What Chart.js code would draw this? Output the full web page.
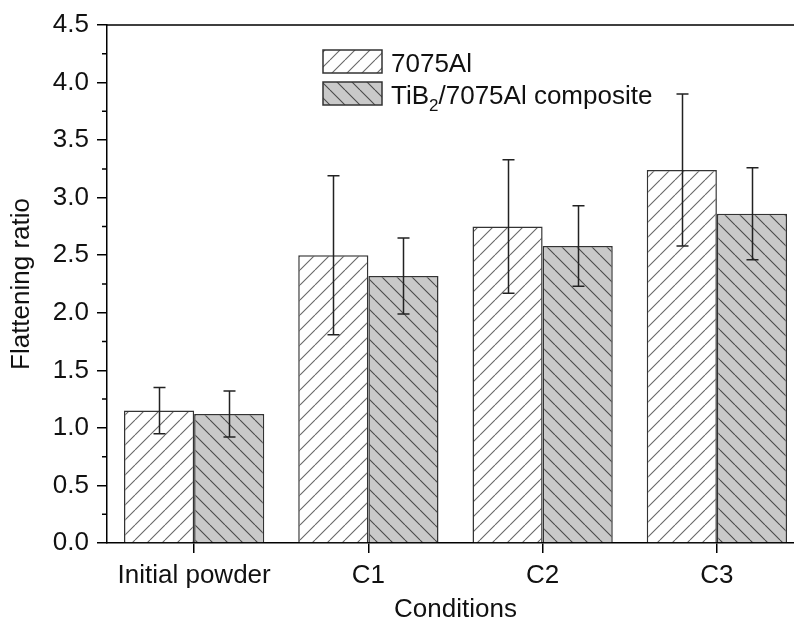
<!DOCTYPE html>
<html>
<head>
<meta charset="utf-8">
<script src="https://cdn.jsdelivr.net/npm/chart.js@4"></script>
<style>
  html, body { margin: 0; padding: 0; background: #fff; overflow: hidden; }
  #wrap { width: 812px; height: 631px; position: relative; }
</style>
</head>
<body>
<div id="wrap"><canvas id="chart"></canvas></div>
<script>
// data
const categories = ['Initial powder', 'C1', 'C2', 'C3'];
const al7075 = [1.15, 2.50, 2.75, 3.24];
const al7075Err = [0.20, 0.69, 0.58, 0.66];
const tib2 = [1.12, 2.32, 2.58, 2.86];
const tib2Err = [0.20, 0.33, 0.35, 0.40];
const yMin = 0, yMax = 4.5, yStep = 0.5, yMinorStep = 0.25;

const FONT = '"Liberation Sans", Arial, sans-serif';
const FONT_SIZE = 26;

// hatch fill: dir 1 = "/" , dir -1 = "\"
function makeHatch(bg, lineColor, dir) {
    const s = 15;
    const c = document.createElement('canvas');
    c.width = s; c.height = s;
    const g = c.getContext('2d');
    g.fillStyle = bg;
    g.fillRect(0, 0, s, s);
    g.strokeStyle = lineColor;
    g.lineWidth = 1.1;
    g.beginPath();
    for (let k = -1; k <= 1; k++) {
        if (dir > 0) {
            g.moveTo(k * s, s); g.lineTo(k * s + s, 0);
        } else {
            g.moveTo(k * s, 0); g.lineTo(k * s + s, s);
        }
    }
    g.stroke();
    return g.createPattern(c, 'repeat');
}

const hatchAl = makeHatch('#ffffff', '#686868', 1);
const hatchTi = makeHatch('#c9c9c9', '#4a4a4a', -1);

// error bars
const errorBars = {
    id: 'errorBars',
    afterDatasetsDraw(chart) {
        const ctx = chart.ctx;
        const y = chart.scales.y;
        const errs = [al7075Err, tib2Err];
        ctx.save();
        ctx.strokeStyle = '#222';
        ctx.lineWidth = 1.5;
        chart.data.datasets.forEach((ds, i) => {
            const meta = chart.getDatasetMeta(i);
            meta.data.forEach((bar, j) => {
                const v = ds.data[j], e = errs[i][j];
                const yt = y.getPixelForValue(v + e);
                const yb = y.getPixelForValue(v - e);
                const x = Math.round(bar.x) + 0.5;
                ctx.beginPath();
                ctx.moveTo(x, yt); ctx.lineTo(x, yb);
                ctx.moveTo(x - 6, yt); ctx.lineTo(x + 6, yt);
                ctx.moveTo(x - 6, yb); ctx.lineTo(x + 6, yb);
                ctx.stroke();
            });
        });
        ctx.restore();
    }
};

// top frame line + minor ticks on the y axis
const frame = {
    id: 'frame',
    afterDraw(chart) {
        const ctx = chart.ctx;
        const a = chart.chartArea;
        const y = chart.scales.y;
        ctx.save();
        ctx.strokeStyle = '#000';
        ctx.lineWidth = 1.5;
        ctx.beginPath();
        ctx.moveTo(a.left, a.top); ctx.lineTo(a.right, a.top);
        ctx.lineTo(a.right, a.bottom);
        for (let v = yMin + yMinorStep; v < yMax; v += yStep) {
            const py = y.getPixelForValue(v);
            ctx.moveTo(a.left - 5, py); ctx.lineTo(a.left, py);
        }
        ctx.stroke();
        ctx.restore();
    }
};

// legend with subscript
const legendBox = {
    id: 'legendBox',
    afterDraw(chart) {
        const ctx = chart.ctx;
        const items = [
            { fill: hatchAl, y: 50, parts: [['7075Al', 0]] },
            { fill: hatchTi, y: 82, parts: [['TiB', 0], ['2', 1], ['/7075Al composite', 0]] }
        ];
        ctx.save();
        items.forEach(it => {
            ctx.fillStyle = it.fill;
            ctx.fillRect(323, it.y, 59, 23);
            ctx.strokeStyle = '#333';
            ctx.lineWidth = 1.5;
            ctx.strokeRect(323, it.y, 59, 23);
            let x = 391;
            const base = it.y + 22;
            ctx.fillStyle = '#111';
            ctx.textBaseline = 'alphabetic';
            it.parts.forEach(([t, sub]) => {
                const fs = sub ? 17 : FONT_SIZE;
                ctx.font = fs + 'px ' + FONT;
                ctx.fillText(t, x, sub ? base + 7 : base);
                x += ctx.measureText(t).width;
            });
        });
        ctx.restore();
    }
};

new Chart(document.getElementById('chart'), {
    type: 'bar',
    data: {
        labels: categories,
        datasets: [
            {
                label: '7075Al',
                data: al7075,
                backgroundColor: hatchAl,
                borderColor: '#333',
                borderWidth: 1.5,
                categoryPercentage: 0.805,
                barPercentage: 1.0
            },
            {
                label: 'TiB2/7075Al composite',
                data: tib2,
                backgroundColor: hatchTi,
                borderColor: '#333',
                borderWidth: 1.5,
                categoryPercentage: 0.805,
                barPercentage: 1.0
            }
        ]
    },
    options: {
        responsive: true,
        maintainAspectRatio: false,
        animation: false,
        layout: { padding: { left: 0, right: 8, top: 25, bottom: 0 } },
        plugins: {
            legend: { display: false },
            tooltip: { enabled: false }
        },
        scales: {
            x: {
                afterFit: s => { s.height = 88; },
                border: { color: '#000', width: 1.5 },
                grid: {
                    offset: false,
                    drawOnChartArea: false,
                    tickLength: 10,
                    color: '#000',
                    lineWidth: 1.5
                },
                ticks: {
                    color: '#111',
                    padding: 7,
                    font: { family: FONT, size: FONT_SIZE }
                },
                title: {
                    display: true,
                    text: 'Conditions',
                    color: '#111',
                    font: { family: FONT, size: FONT_SIZE },
                    padding: { top: 0, bottom: 6 }
                }
            },
            y: {
                min: yMin,
                max: yMax,
                afterFit: s => { s.width = 107; },
                border: { color: '#000', width: 1.5 },
                grid: {
                    drawOnChartArea: false,
                    tickLength: 10,
                    color: '#000',
                    lineWidth: 1.5
                },
                ticks: {
                    stepSize: yStep,
                    color: '#111',
                    padding: 8,
                    font: { family: FONT, size: FONT_SIZE },
                    callback: v => v.toFixed(1)
                },
                title: {
                    display: true,
                    text: 'Flattening ratio',
                    color: '#111',
                    font: { family: FONT, size: FONT_SIZE },
                    padding: { top: 6, bottom: 0 }
                }
            }
        }
    },
    plugins: [errorBars, frame, legendBox]
});
</script>
</body>
</html>
